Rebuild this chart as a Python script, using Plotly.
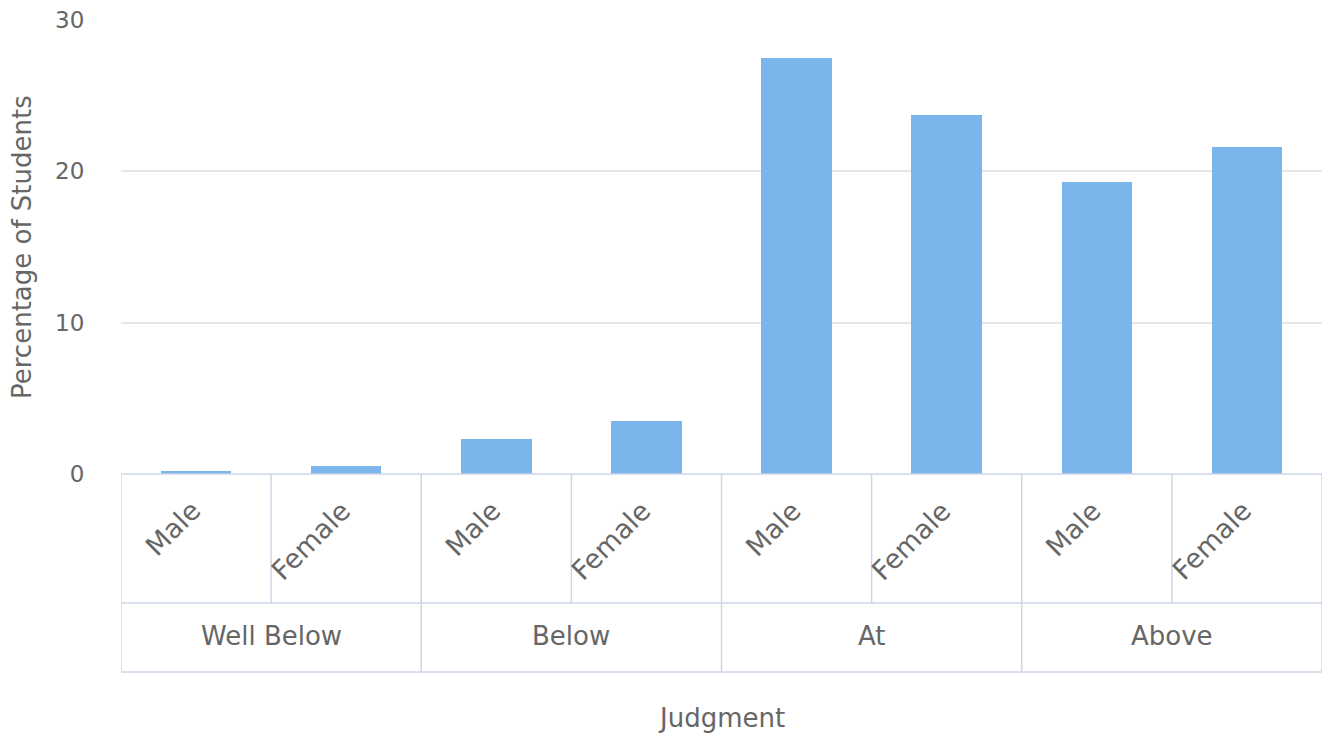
import plotly.graph_objects as go

groups = ["Well Below", "Below", "At", "Above"]
genders = ["Male", "Female"]
values = [0.2, 0.5, 2.3, 3.5, 27.5, 23.7, 19.3, 21.6]
y_ticks = [0, 10, 20, 30]

BAR = "#7cb5ec"
TXT = "#666666"
LINE = "#ccd6eb"
FONT = "DejaVu Sans"

n = len(values)
xs = list(range(n))
inner_labels = [g for _ in groups for g in genders]

fig = go.Figure(go.Bar(x=xs, y=values, marker=dict(color=BAR, line=dict(width=0)), width=0.47))

W, H = 1329, 736
ml, mr, mt, mb = 121, 7, 20, 262
ph = H - mt - mb

def py(pix):
    return (H - mb - pix) / ph

row1 = py(603)
row2 = py(672)

shapes = []
line = dict(color=LINE, width=1.5)
for yy in [0, row1, row2]:
    shapes.append(dict(type="line", xref="x", yref="paper", x0=-0.5, x1=n - 0.5, y0=yy, y1=yy, line=line))
for i in range(n + 1):
    b = i - 0.5
    full = (i % len(genders) == 0)
    shapes.append(dict(type="line", xref="x", yref="paper", x0=b, x1=b, y0=0,
                       y1=row2 if full else row1, line=line))

annotations = []
for i, lab in enumerate(inner_labels):
    annotations.append(dict(x=i, y=py(492), xref="x", yref="paper", text=lab, textangle=-45,
                            xanchor="right", yanchor="top", xshift=13, showarrow=False,
                            font=dict(family=FONT, size=27, color=TXT)))
for j, g in enumerate(groups):
    c = j * len(genders) + (len(genders) - 1) / 2
    annotations.append(dict(x=c, y=py(636), xref="x", yref="paper", text=g,
                            xanchor="center", yanchor="middle", showarrow=False,
                            font=dict(family=FONT, size=26, color=TXT)))
annotations.append(dict(x=0.5, y=py(718), xref="paper", yref="paper", text="Judgment",
                        xanchor="center", yanchor="middle", showarrow=False,
                        font=dict(family=FONT, size=26, color=TXT)))
annotations.append(dict(x=(22 - ml) / (W - ml - mr), y=0.5, xref="paper", yref="paper",
                        text="Percentage of Students", textangle=-90,
                        xanchor="center", yanchor="middle", showarrow=False,
                        font=dict(family=FONT, size=26, color=TXT)))

fig.update_layout(
    width=W, height=H,
    margin=dict(l=ml, r=mr, t=mt, b=mb),
    paper_bgcolor="white", plot_bgcolor="white",
    showlegend=False,
    bargap=0,
    xaxis=dict(range=[-0.5, n - 0.5], showticklabels=False, showgrid=False, zeroline=False,
               showline=False, ticks=""),
    yaxis=dict(range=[0, 30], tickvals=y_ticks, showgrid=True, gridcolor="#e6e6e6", gridwidth=1.5,
               zeroline=False, showline=False, ticks="outside", ticklen=31,
               tickcolor="rgba(0,0,0,0)",
               tickfont=dict(family=FONT, size=23, color=TXT)),
    shapes=shapes,
    annotations=annotations,
)

fig.write_html("out.html")
